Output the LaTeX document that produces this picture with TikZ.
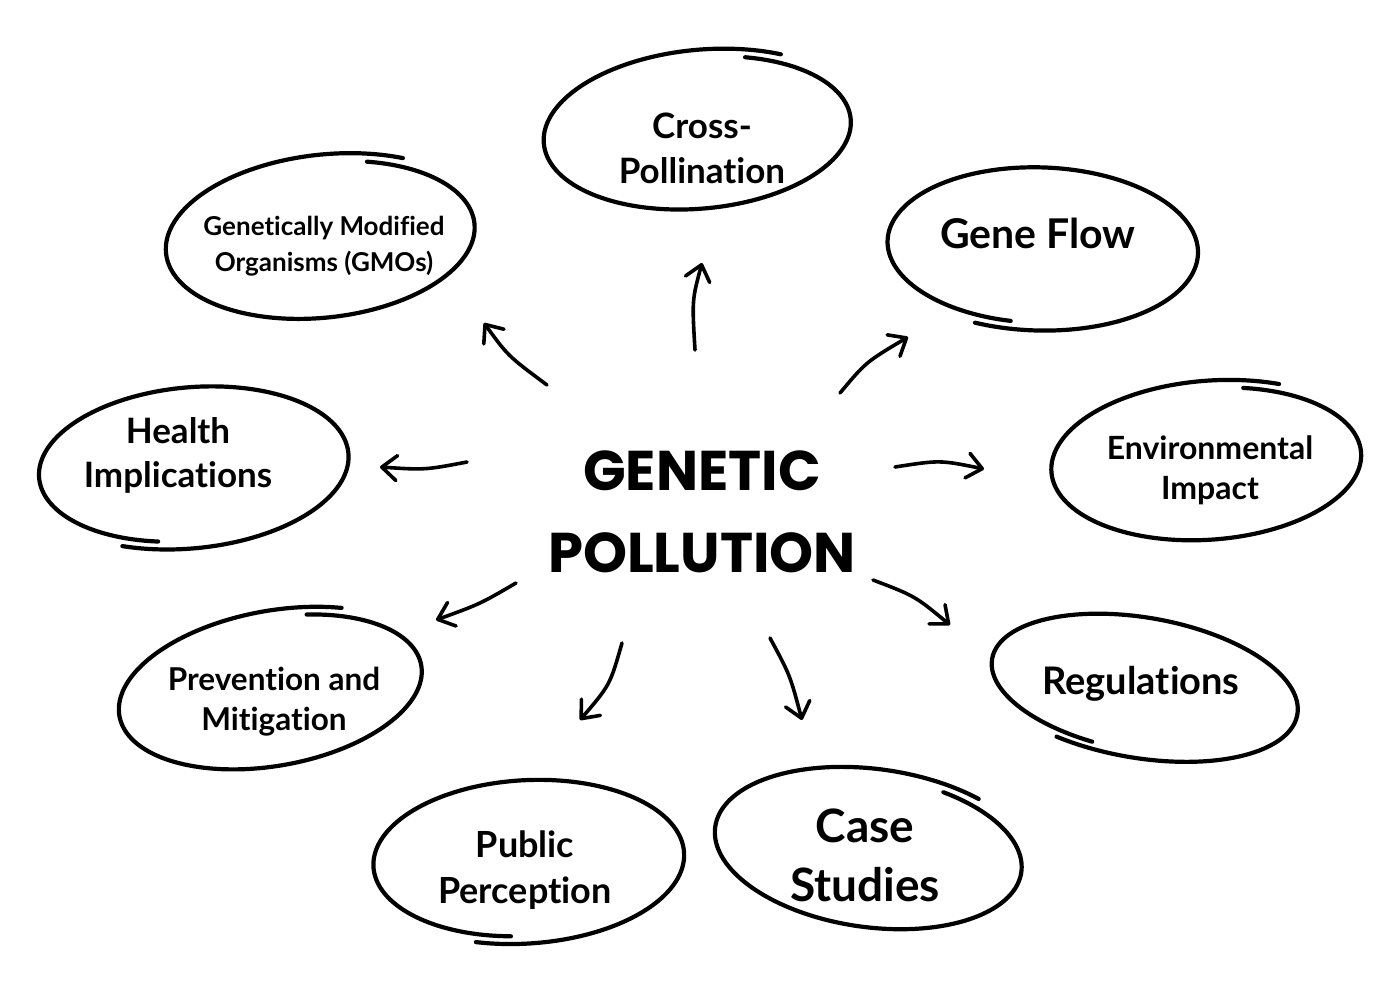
\documentclass[tikz,border=0pt]{standalone}
\usepackage{fontspec}
\setmainfont{Lato}[Ligatures={NoCommon}]
\newfontfamily\titlefont{Poppins}
\usetikzlibrary{arrows.meta}
% hand drawn loop: cx, cy, rx, ry, tilt, start angle
\newcommand\sketchloop[6]{%
  \draw[loopline] plot[smooth,samples=100,domain=#6:#6+372,variable=\t]
    ({#1+#3*(0.95+0.1*(\t-#6)/372)*cos(\t)*cos(#5)-#4*(0.95+0.1*(\t-#6)/372)*sin(\t)*sin(#5)},
     {#2+#3*(0.95+0.1*(\t-#6)/372)*cos(\t)*sin(#5)+#4*(0.95+0.1*(\t-#6)/372)*sin(\t)*cos(#5)});}
\tikzset{
  loopline/.style={line width=4.2pt, line cap=round, line join=round},
  arrowline/.style={line width=3.6pt, line cap=round,
    -{Straight Barb[length=15pt,width=25pt,round]}},
  label/.style={align=center, inner sep=0pt, font=\bfseries},
}
\begin{document}
\begin{tikzpicture}[x=1pt, y=-1pt]
  \useasboundingbox (0,0) rectangle (1400,1000);
  % loops
  \sketchloop{701}{131}{155}{78}{-5}{290}
  \sketchloop{1039}{247}{156}{80}{2}{100}
  \sketchloop{324}{238}{156}{80}{-6}{290}
  \sketchloop{190}{466}{156}{79}{-5}{105}
  \sketchloop{1210}{462}{156}{78}{-4}{285}
  \sketchloop{274}{690}{154}{76}{-10}{288}
  \sketchloop{1141}{686}{156}{69}{10}{105}
  \sketchloop{525}{860}{156}{80}{-3}{97}
  \sketchloop{872}{850}{156}{78}{8}{295}
  % texts
  \node[font=\titlefont\bfseries\fontsize{56}{82}\selectfont, align=center] (title) at (702,512) {GENETIC\\POLLUTION};
  \node[label, font=\bfseries\fontsize{35}{45}\selectfont] (cross) at (702,148) {Cross-\\Pollination};
  \node[label, font=\bfseries\fontsize{41}{50}\selectfont] (flow) at (1038,233) {Gene Flow};
  \node[label, font=\bfseries\fontsize{26}{36}\selectfont] (gmo) at (324,246) {Genetically Modified\\Organisms (GMOs)};
  \node[label, font=\bfseries\fontsize{35}{44}\selectfont] (health) at (178,455) {Health\\Implications};
  \node[label, font=\bfseries\fontsize{32}{40}\selectfont] (env) at (1210,470) {Environmental\\Impact};
  \node[label, font=\bfseries\fontsize{31.5}{40}\selectfont] (prev) at (274,702) {Prevention and\\Mitigation};
  \node[label, font=\bfseries\fontsize{38}{46}\selectfont] (reg) at (1141,684) {Regulations};
  \node[label, font=\bfseries\fontsize{36}{46}\selectfont] (pub) at (525,870) {Public\\Perception};
  \node[label, font=\bfseries\fontsize{46}{59}\selectfont] (case) at (865,855) {Case\\Studies};
  % arrow ends
  \coordinate (scross) at (695,350); \coordinate (ccross) at (692,300); \coordinate (ecross) at (702,263);
  \coordinate (sgmo) at (547,385); \coordinate (cgmo) at (508,356); \coordinate (egmo) at (484,323);
  \coordinate (sflow) at (840,393); \coordinate (cflow) at (866,362); \coordinate (eflow) at (908,337);
  \coordinate (senv) at (895,467); \coordinate (cenv) at (940,460); \coordinate (eenv) at (984,469);
  \coordinate (shealth) at (467,462); \coordinate (chealth) at (425,470); \coordinate (ehealth) at (380,467);
  \coordinate (sprev) at (516,583); \coordinate (cprev) at (480,604); \coordinate (eprev) at (436,620);
  \coordinate (sreg) at (873,580); \coordinate (creg) at (915,596); \coordinate (ereg) at (950,625);
  \coordinate (spub) at (622,643); \coordinate (cpub) at (610,685); \coordinate (epub) at (580,720);
  \coordinate (scase) at (770,638); \coordinate (ccase) at (790,675); \coordinate (ecase) at (802,720);
  \foreach \n in {cross,gmo,flow,env,health,prev,reg,pub,case}
    \draw[arrowline] (s\n) .. controls (c\n) .. (e\n);
\end{tikzpicture}
\end{document}
